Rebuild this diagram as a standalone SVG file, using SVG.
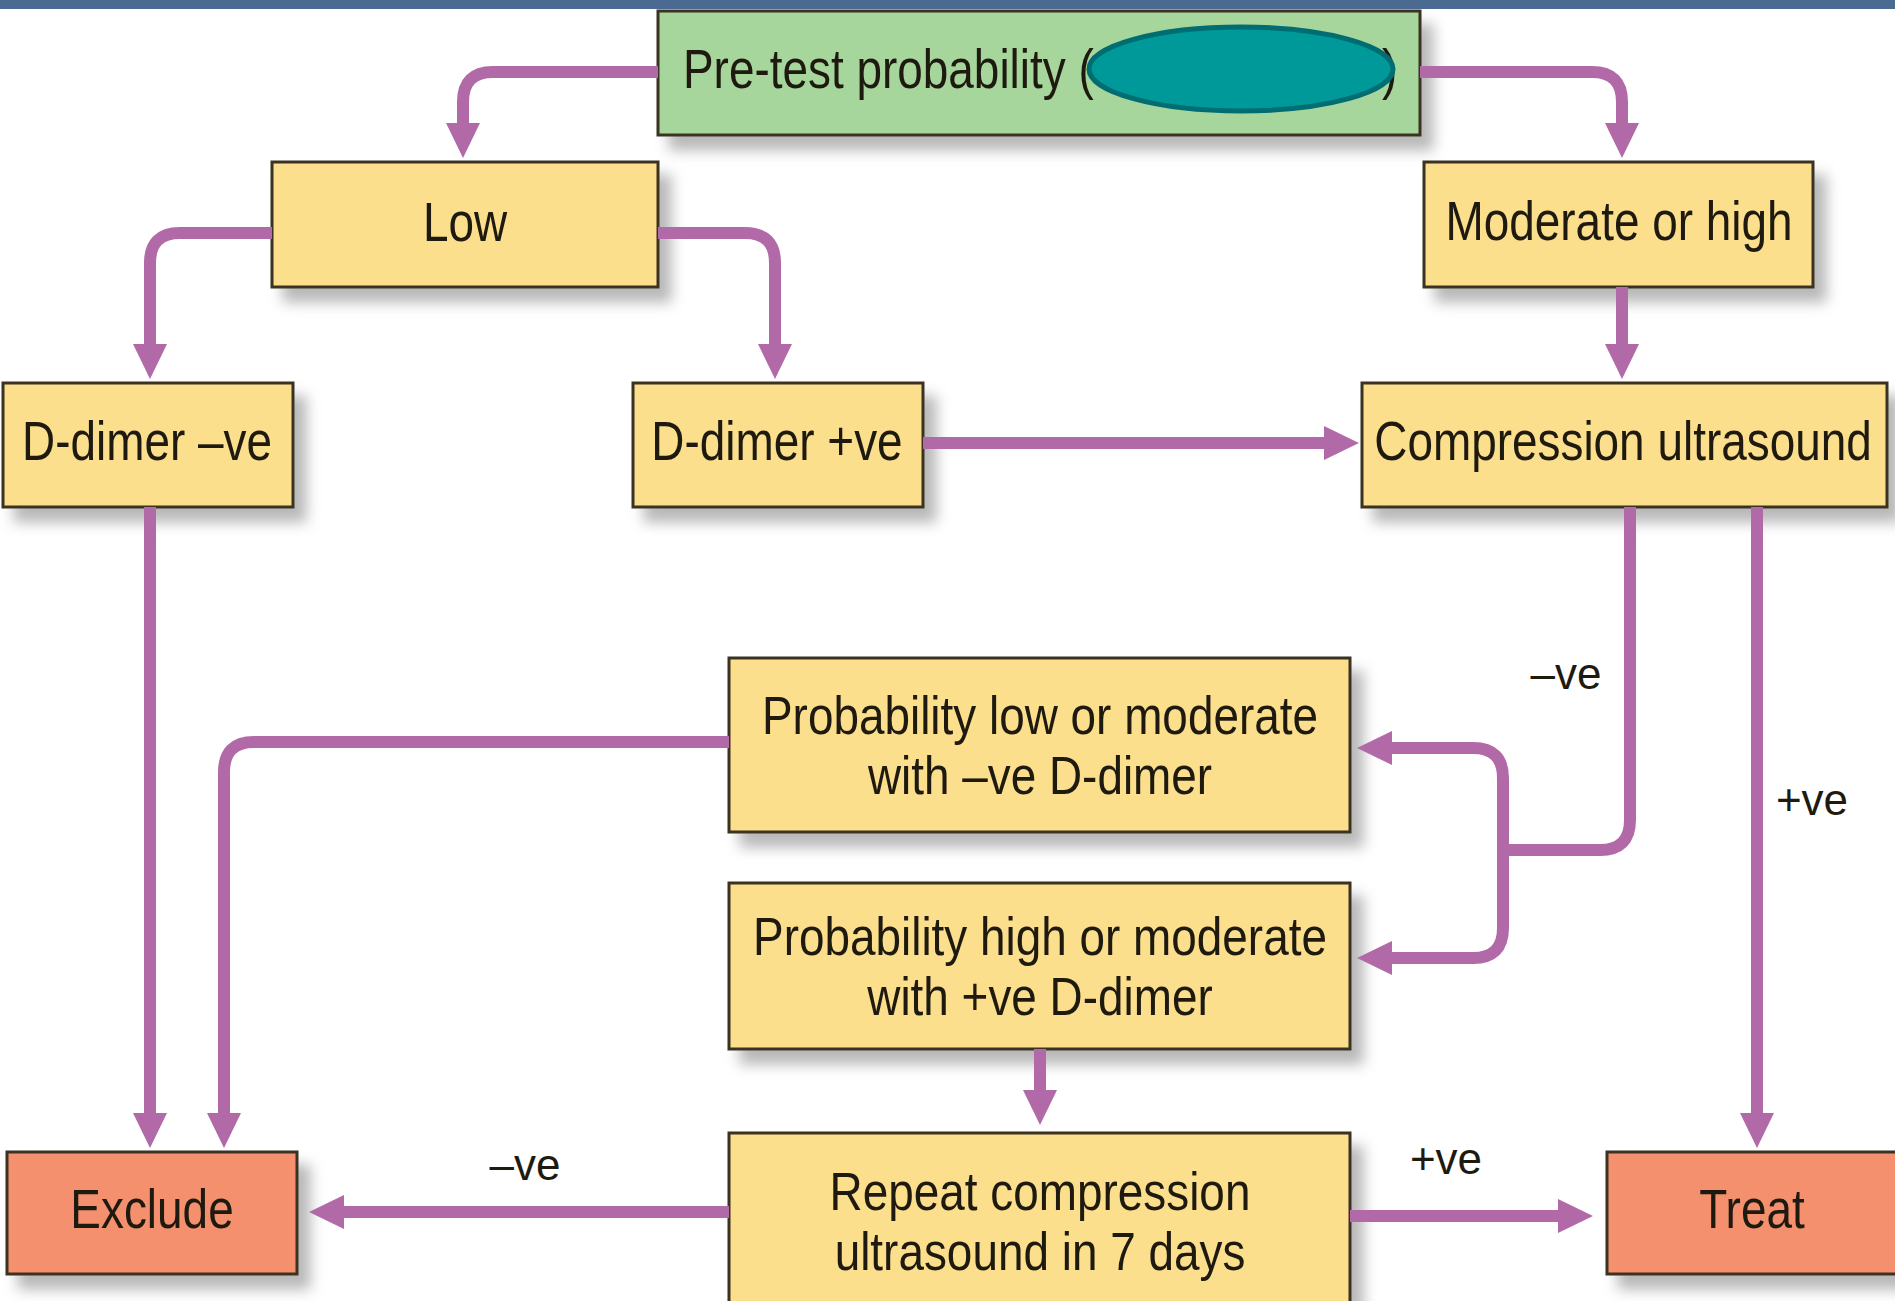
<svg xmlns="http://www.w3.org/2000/svg" width="1895" height="1301" viewBox="0 0 1895 1301">
<defs>
<filter id="sh" x="-10%" y="-20%" width="130%" height="160%">
<feDropShadow dx="12" dy="14" stdDeviation="7" flood-color="#000" flood-opacity="0.28"/>
</filter>
<marker id="ah" markerUnits="userSpaceOnUse" markerWidth="36" markerHeight="36" viewBox="0 0 36 36" refX="1" refY="18" orient="auto">
<path d="M0,1 L35,18 L0,35 Z" fill="#b169a7"/>
</marker>
<style>
.box{stroke:#3b3121;stroke-width:3;filter:url(#sh)}
.y{fill:#fcdf8c}
.g{fill:#a6d69c}
.s{fill:#f4906e}
.t{font-family:"Liberation Sans",Arial,sans-serif;font-size:56px;fill:#1e1a10;text-anchor:middle}
.t2{font-family:"Liberation Sans",Arial,sans-serif;font-size:53px;fill:#1e1a10;text-anchor:middle}
.ts{font-family:"Liberation Sans",Arial,sans-serif;font-size:56px;fill:#1e1a10}
.lb{font-family:"Liberation Sans",Arial,sans-serif;font-size:44px;fill:#1e1a10;text-anchor:middle}
.c{fill:none;stroke:#b169a7;stroke-width:12}
.ca{fill:none;stroke:#b169a7;stroke-width:12;marker-end:url(#ah)}
</style>
</defs>
<rect x="0" y="0" width="1895" height="1301" fill="#ffffff"/>
<rect x="0" y="0" width="1895" height="9" fill="#4b6a92"/>

<g id="pretest">
<rect class="box g" x="658" y="11" width="762" height="124"/>
<text class="ts" transform="translate(683,88) scale(0.82,1)">Pre-test probability (</text>
<text class="ts" transform="translate(1382,88) scale(0.82,1)">)</text>
<ellipse cx="1241" cy="69" rx="152" ry="42" fill="#009999" stroke="#006d73" stroke-width="5"/>
</g>
<g id="low">
<rect class="box y" x="272" y="162" width="386" height="125"/>
<text class="t" transform="translate(465,241) scale(0.82,1)">Low</text>
</g>
<g id="modhigh">
<rect class="box y" x="1424" y="162" width="389" height="125"/>
<text class="t" transform="translate(1619,240) scale(0.82,1)">Moderate or high</text>
</g>
<g id="ddneg">
<rect class="box y" x="3" y="383" width="290" height="124"/>
<text class="t" transform="translate(147,460) scale(0.82,1)">D-dimer –ve</text>
</g>
<g id="ddpos">
<rect class="box y" x="633" y="383" width="290" height="124"/>
<text class="t" transform="translate(777,460) scale(0.82,1)">D-dimer +ve</text>
</g>
<g id="cus">
<rect class="box y" x="1362" y="383" width="525" height="124"/>
<text class="t" transform="translate(1623,460) scale(0.82,1)">Compression ultrasound</text>
</g>
<g id="problow">
<rect class="box y" x="729" y="658" width="621" height="174"/>
<text class="t2" transform="translate(1040,734) scale(0.866,1)">Probability low or moderate</text>
<text class="t2" transform="translate(1040,794) scale(0.866,1)">with –ve D-dimer</text>
</g>
<g id="probhigh">
<rect class="box y" x="729" y="883" width="621" height="166"/>
<text class="t2" transform="translate(1040,955) scale(0.866,1)">Probability high or moderate</text>
<text class="t2" transform="translate(1040,1015) scale(0.866,1)">with +ve D-dimer</text>
</g>
<g id="repeat">
<rect class="box y" x="729" y="1133" width="621" height="180"/>
<text class="t2" transform="translate(1040,1210) scale(0.866,1)">Repeat compression</text>
<text class="t2" transform="translate(1040,1270) scale(0.866,1)">ultrasound in 7 days</text>
</g>
<g id="exclude">
<rect class="box s" x="7" y="1152" width="290" height="122"/>
<text class="t" transform="translate(152,1228) scale(0.82,1)">Exclude</text>
</g>
<g id="treat">
<rect class="box s" x="1607" y="1152" width="300" height="122"/>
<text class="t" transform="translate(1752,1228) scale(0.82,1)">Treat</text>
</g>

<g id="connectors">
<path class="ca" d="M658,72 H493 Q463,72 463,102 V124"/>
<path class="ca" d="M1420,72 H1592 Q1622,72 1622,102 V124"/>
<path class="ca" d="M272,233 H180 Q150,233 150,263 V345"/>
<path class="ca" d="M658,233 H745 Q775,233 775,263 V345"/>
<path class="ca" d="M1622,287 V345"/>
<path class="ca" d="M923,443 H1325"/>
<path class="ca" d="M150,507 V1114"/>
<path class="c" d="M1630,507 V820 Q1630,850 1600,850 H1503"/>
<path class="ca" d="M1503,856 V778 Q1503,748 1473,748 H1391"/>
<path class="ca" d="M1503,844 V928 Q1503,958 1473,958 H1391"/>
<path class="ca" d="M1757,507 V1114"/>
<path class="ca" d="M729,742 H254 Q224,742 224,772 V1114"/>
<path class="ca" d="M1040,1049 V1091"/>
<path class="ca" d="M729,1212 H343"/>
<path class="ca" d="M1350,1216 H1559"/>
</g>

<g id="labels">
<text class="lb" x="1566" y="689">–ve</text>
<text class="lb" x="1812" y="815">+ve</text>
<text class="lb" x="525" y="1180">–ve</text>
<text class="lb" x="1446" y="1174">+ve</text>
</g>
</svg>
